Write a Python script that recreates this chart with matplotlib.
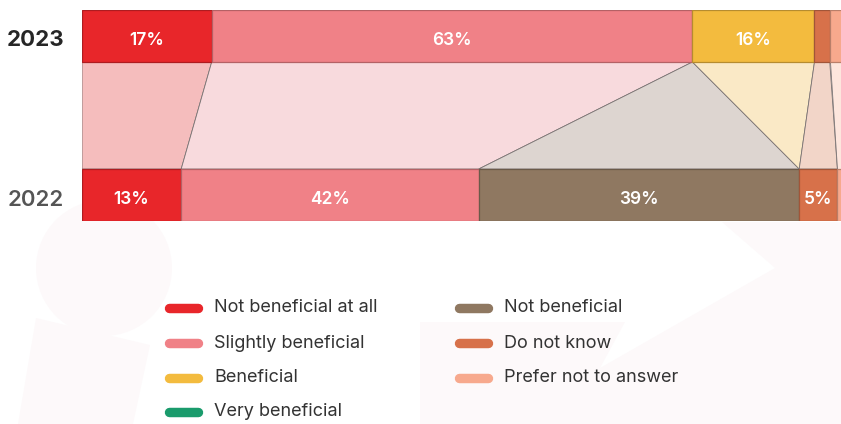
import numpy as np
import matplotlib
matplotlib.use("Agg")
import matplotlib.pyplot as plt
from matplotlib.patches import Circle, Polygon
from matplotlib import colors as mcolors

plt.rcParams['font.family'] = ['Inter', 'DejaVu Sans']

# data
years = ['2022', '2023']
categories = ['Not beneficial at all', 'Slightly beneficial', 'Not beneficial',
              'Beneficial', 'Very beneficial', 'Do not know', 'Prefer not to answer']
vals_2023 = [17, 63, 0, 16, 0, 2, 2]
vals_2022 = [13, 39, 42, 0, 0, 5, 1]
labels_2023 = ['17%', '63%', '', '16%', '', '', '']
labels_2022 = ['13%', '42%', '39%', '', '', '5%', '']
legend_order = ['Not beneficial at all', 'Slightly beneficial', 'Beneficial', 'Very beneficial',
                'Not beneficial', 'Do not know', 'Prefer not to answer']

bar_colors = ['#e8262a', '#f08187', '#8f7861', '#f3bb3e', '#1a9b6c', '#d7714a', '#f7a98d']
link_colors = ['#f5bdbd', '#f8dadd', '#ddd5d0', '#fae9c6', '#d5eee4', '#f2d5c8', '#fde6dd']

W, H = 841, 424
fig = plt.figure(figsize=(W / 100, H / 100), dpi=100)
fig.patch.set_facecolor('white')

# background / legend layer in pixel coords
bg = fig.add_axes([0, 0, 1, 1], zorder=0)
bg.set_xlim(0, W)
bg.set_ylim(H, 0)
bg.axis('off')

wm = '#fdf9fa'
bg.add_patch(Circle((104, 268), 68, color=wm, lw=0))
bg.add_patch(Polygon([(18, 424), (36, 318), (150, 345), (133, 424)], color=wm, lw=0))
bg.add_patch(Polygon([(420, 322), (625, 322), (600, 368), (775, 268), (722, 222),
                      (841, 222), (841, 424), (420, 424)], color=wm, lw=0))

# bars
bar_h = 52 / 159
txt_dy = 4.5 / 159   # labels sit a little below bar centre
ax = fig.add_axes([82 / W, (H - 221) / H, (845 - 82) / W, 211 / H], zorder=2)
ax.set_xlim(0, 100)
ax.set_ylim(-bar_h / 2, 1 + bar_h / 2)
ax.axis('off')

year_style = {'2022': ('#555555', 'semibold'), '2023': ('#262626', 'bold')}
for y, yr in enumerate(years):
    c, w = year_style[yr]
    ax.text(-18 / 763, y - txt_dy, yr, transform=ax.get_yaxis_transform(),
            ha='right', va='center', fontsize=16, color=c, fontweight=w)


def darker(c, f=0.75):
    r, g, b = mcolors.to_rgb(c)
    return (r * f, g * f, b * f)


left_23 = np.concatenate([[0], np.cumsum(vals_2023)[:-1]])
left_22 = np.concatenate([[0], np.cumsum(vals_2022)[:-1]])

# connector bands
top = 1 - bar_h / 2
bot = bar_h / 2
for i in range(len(categories)):
    if vals_2023[i] == 0 and vals_2022[i] == 0:
        continue
    pts = [(left_23[i], top), (left_23[i] + vals_2023[i], top),
           (left_22[i] + vals_2022[i], bot), (left_22[i], bot)]
    ax.add_patch(Polygon(pts, closed=True, facecolor=link_colors[i],
                         edgecolor='#7a7373', lw=0.6, zorder=1))

for y, vals, lefts, labs in [(1, vals_2023, left_23, labels_2023),
                              (0, vals_2022, left_22, labels_2022)]:
    for i, v in enumerate(vals):
        if v == 0:
            continue
        ax.barh(y, v, left=lefts[i], height=bar_h, color=bar_colors[i],
                edgecolor=darker(bar_colors[i]), lw=0.9, zorder=3)
        if labs[i]:
            ax.text(lefts[i] + v / 2, y - txt_dy, labs[i], ha='center', va='center',
                    color='white', fontsize=12.5, fontweight='semibold', zorder=4)

# legend
col_x = [165, 455]
row_y = [308, 343, 378, 412]
for k, name in enumerate(legend_order):
    i = categories.index(name)
    col = 0 if k < 4 else 1
    row = k if k < 4 else k - 4
    x0 = col_x[col]
    y0 = row_y[row]
    bg.plot([x0 + 4.5, x0 + 38 - 4.5], [y0, y0], color=bar_colors[i], lw=6.8,
            solid_capstyle='round')
    bg.text(x0 + 49, y0, name, ha='left', va='center', fontsize=13,
            color='#333333', fontweight='normal')

fig.savefig('out.png', dpi=100, facecolor='white')
